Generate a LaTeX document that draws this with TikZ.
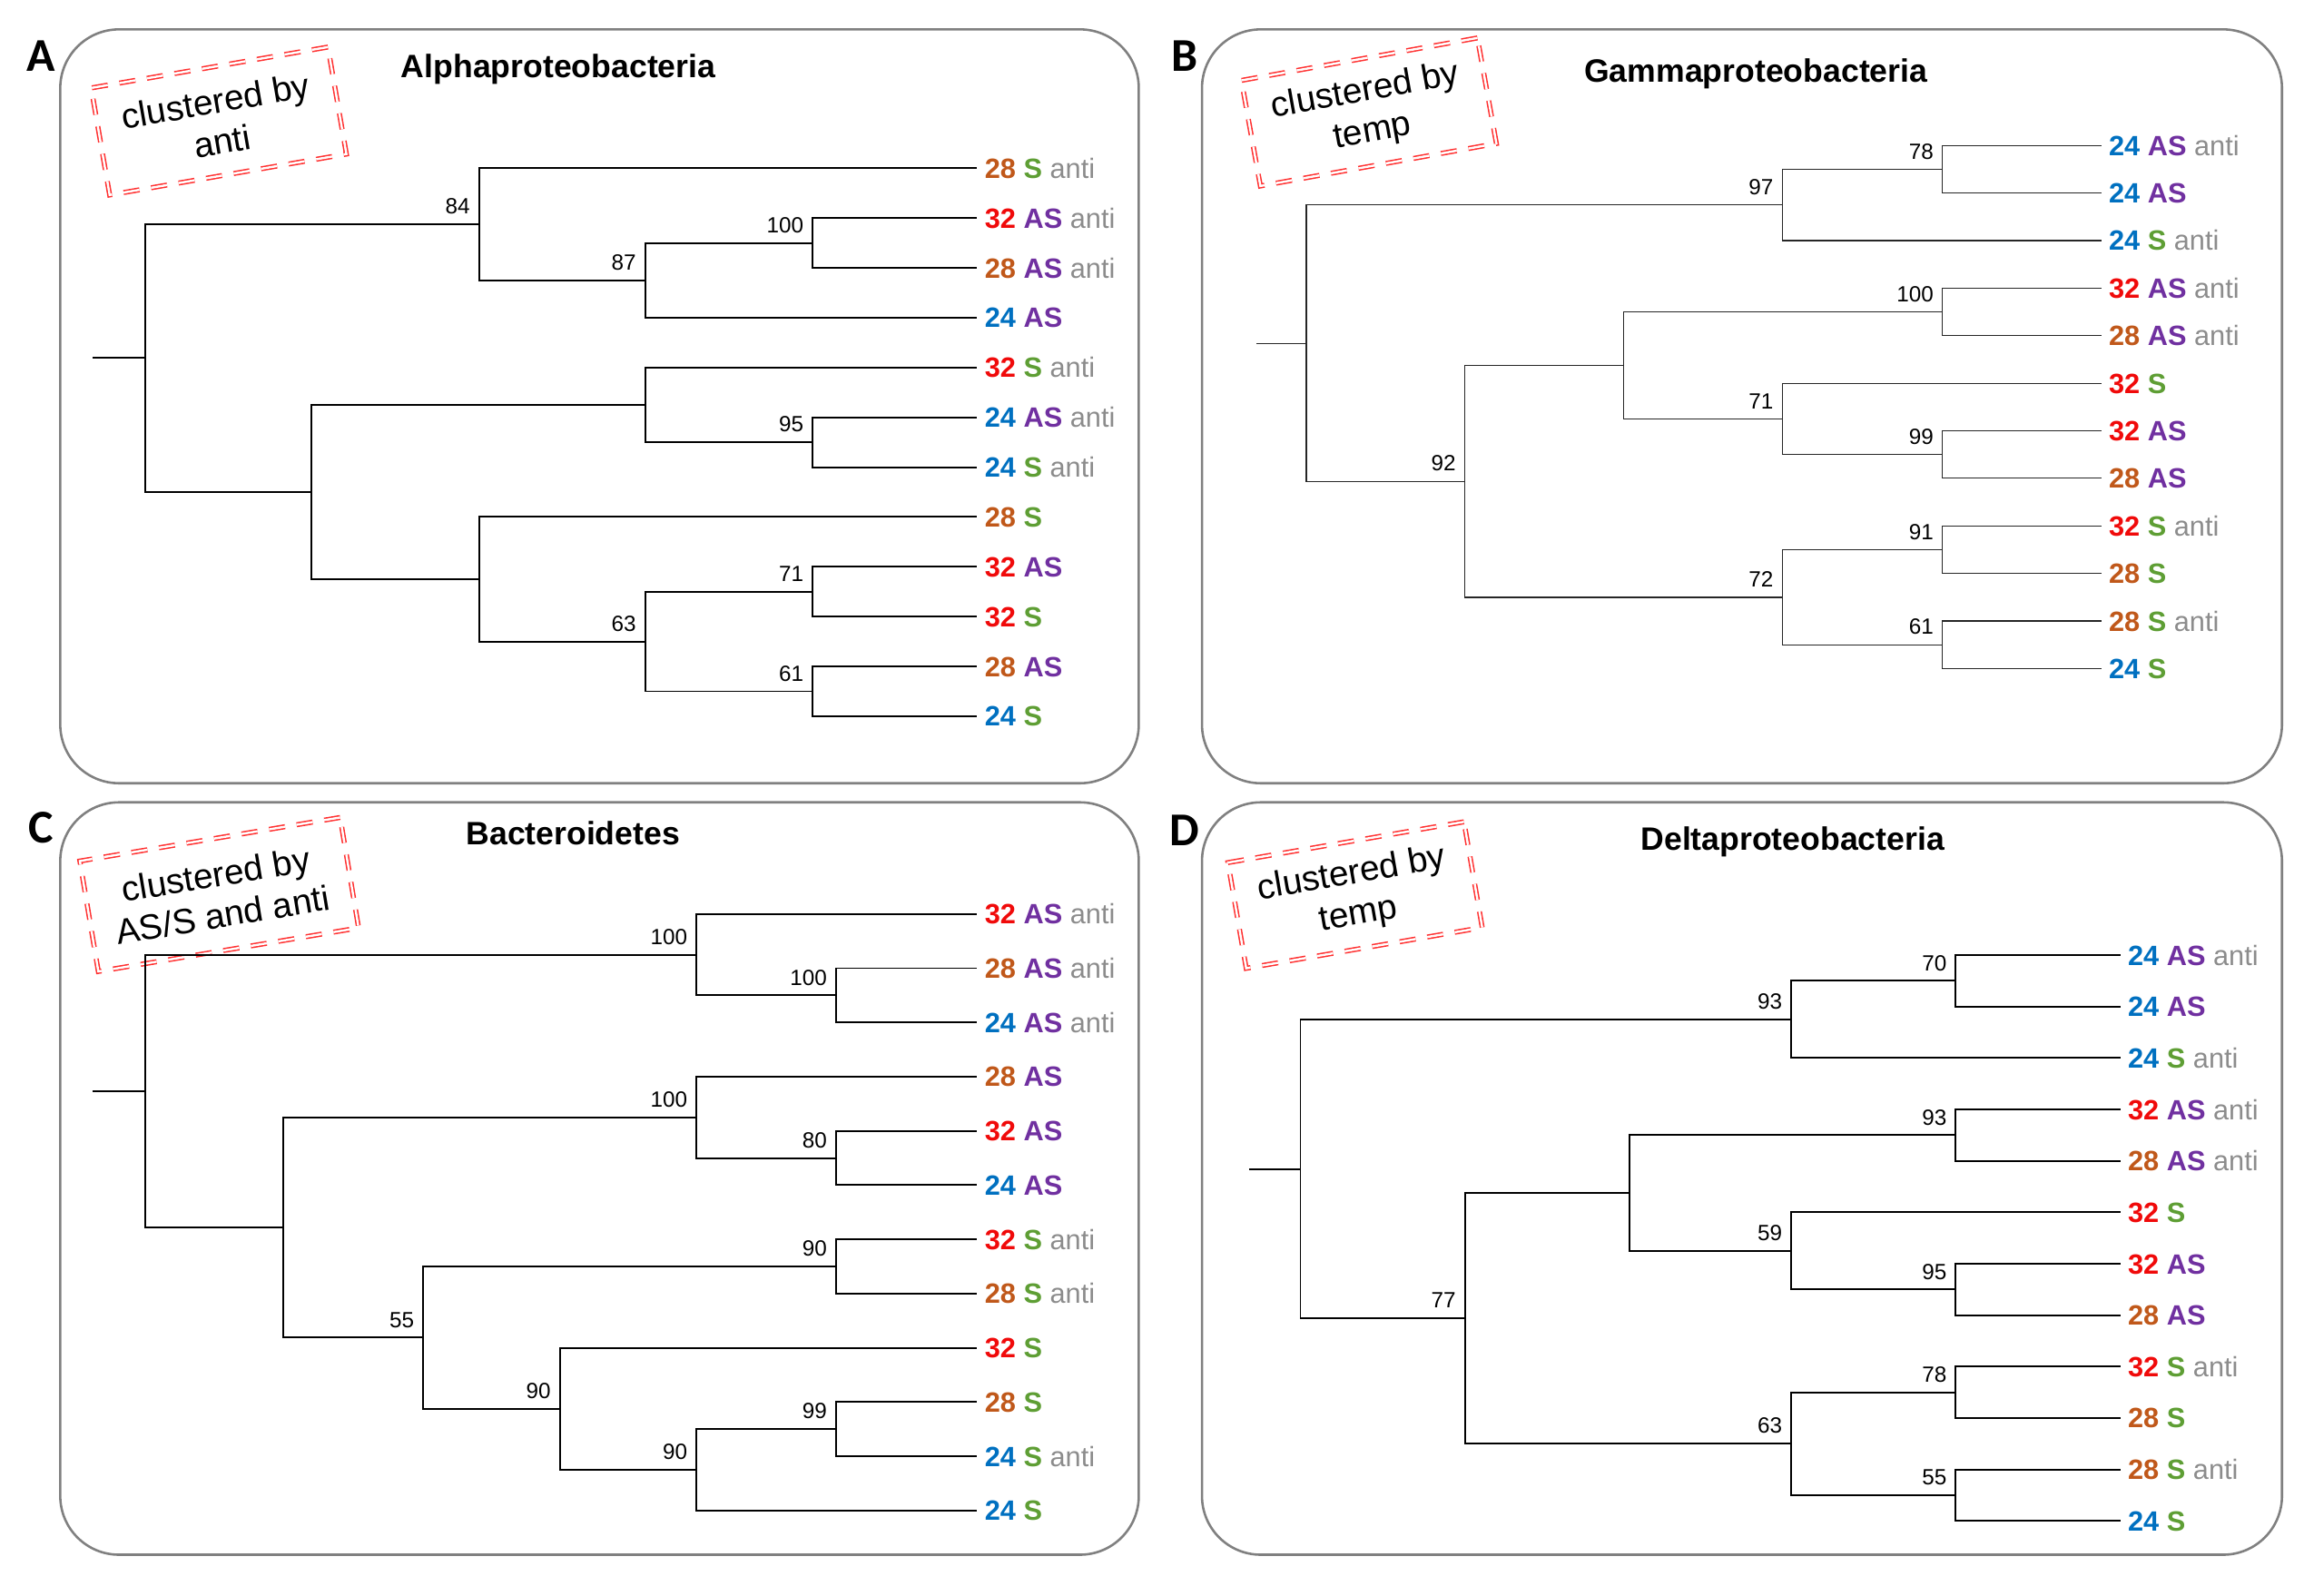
\documentclass[tikz,border=0pt]{standalone}
\usepackage{fontspec}
\setmainfont{Liberation Sans}
\newfontfamily\letterfont{Carlito}
\usetikzlibrary{calc}
\definecolor{c24}{HTML}{0070C0}
\definecolor{c28}{HTML}{C0581A}
\definecolor{c32}{HTML}{F00A0A}
\definecolor{cAS}{HTML}{7030A0}
\definecolor{cS}{HTML}{5E9E34}
\definecolor{canti}{HTML}{8C8C8C}
\definecolor{panelgray}{HTML}{808080}
\definecolor{dred}{HTML}{FF3030}
\newcommand{\tnum}[1]{\textcolor{c#1}{\textbf{#1}}}
\newcommand{\tAS}{\textcolor{cAS}{\textbf{AS}}}
\newcommand{\tS}{\textcolor{cS}{\textbf{S}}}
\newcommand{\tanti}{\textcolor{canti}{anti}}
\begin{document}
\begin{tikzpicture}[x=1pt,y=-1pt,
  panel/.style={draw=panelgray, line width=1.6pt, rounded corners=40pt},
  thick tree/.style={line width=1.2pt, black},
  thin tree/.style={line width=0.75pt, black!85},
  leaf/.style={anchor=west, inner xsep=5pt, inner ysep=0pt, font=\fontsize{19}{22}\selectfont, text height=13.6pt, text depth=0pt},
  boot/.style={anchor=base east, font=\fontsize{15}{18}\selectfont, inner sep=0pt},
  title/.style={font=\fontsize{22}{26}\selectfont\bfseries},
  plabel/.style={font=\letterfont\fontsize{32}{36}\selectfont\bfseries},
  dbox/.style={draw=dred, double=white, double distance=1.5pt, line width=0.95pt, dash pattern=on 11pt off 8pt, align=center, font=\fontsize{24}{28}\selectfont, inner sep=0pt}
]
\useasboundingbox (0,0) rectangle (1568,1085.5);

% ---------- panel frames ----------
\draw[panel] (41,20) rectangle (775,533);
\draw[panel] (818,20) rectangle (1553,533);
\draw[panel] (41,546) rectangle (775,1058);
\draw[panel] (818,546) rectangle (1553,1058);

\node[plabel] (LA) at (28,38) {A};
\node[plabel] (LB) at (806,38) {B};
\node[plabel] (LC) at (28,563) {C};
\node[plabel] (LD) at (806,565) {D};

\node[title] (TA) at (380,47) {Alphaproteobacteria};
\node[title] (TB) at (1195,50) {Gammaproteobacteria};
\node[title] (TC) at (390,567) {Bacteroidetes};
\node[title] (TD) at (1220,573) {Deltaproteobacteria};

% ---------- dashed notes ----------
\node[dbox, rotate=9.8, minimum width=163.5pt, minimum height=73.9pt] (bA) at (148.9,82.35) {clustered by\\anti};
\node[dbox, rotate=10.2, minimum width=163.2pt, minimum height=73pt] (bB) at (931.6,76.2) {clustered by\\temp};
\node[dbox, rotate=9.5, minimum width=179.6pt, minimum height=76.2pt] (bC) at (149.2,608.7) {clustered by\\AS/S and anti};
\node[dbox, rotate=9.8, minimum width=163pt, minimum height=73pt] (bD) at (922.2,609.1) {clustered by\\temp};

% ================= Panel A =================
\coordinate (A0) at (63,243.7);
\coordinate (nAr) at (99,243.7);
\coordinate (nA84) at (326,152.6);
\coordinate (nA87) at (439,190.8);
\coordinate (nA100) at (553,165.35);
\coordinate (nAx1) at (439,275.5);
\coordinate (nA95) at (553,300.95);
\coordinate (nAx3) at (212,334.85);
\coordinate (nAx2) at (326,394.2);
\coordinate (nA63) at (439,436.55);
\coordinate (nA71) at (553,402.65);
\coordinate (nA61) at (553,470.45);
\node[leaf] (A1) at (665,114.5) {\tnum{28} \tS{} \tanti};
\node[leaf] (A2) at (665,148.4) {\tnum{32} \tAS{} \tanti};
\node[leaf] (A3) at (665,182.3) {\tnum{28} \tAS{} \tanti};
\node[leaf] (A4) at (665,216.2) {\tnum{24} \tAS};
\node[leaf] (A5) at (665,250.1) {\tnum{32} \tS{} \tanti};
\node[leaf] (A6) at (665,284.0) {\tnum{24} \tAS{} \tanti};
\node[leaf] (A7) at (665,317.9) {\tnum{24} \tS{} \tanti};
\node[leaf] (A8) at (665,351.8) {\tnum{28} \tS};
\node[leaf] (A9) at (665,385.7) {\tnum{32} \tAS};
\node[leaf] (A10) at (665,419.6) {\tnum{32} \tS};
\node[leaf] (A11) at (665,453.5) {\tnum{28} \tAS};
\node[leaf] (A12) at (665,487.4) {\tnum{24} \tS};
\begin{scope}[thick tree]
\draw (A0) -- (nAr);
\draw (nAr) |- (nA84); \draw (nAr) |- (nAx3);
\draw (nA84) |- (A1.west); \draw (nA84) |- (nA87);
\draw (nA87) |- (nA100); \draw (nA87) |- (A4.west);
\draw (nA100) |- (A2.west); \draw (nA100) |- (A3.west);
\draw (nAx3) |- (nAx1); \draw (nAx3) |- (nAx2);
\draw (nAx1) |- (A5.west); \draw (nAx1) |- (nA95);
\draw (nA95) |- (A6.west); \draw (nA95) |- (A7.west);
\draw (nAx2) |- (A8.west); \draw (nAx2) |- (nA63);
\draw (nA63) |- (nA71); \draw (nA63) |- (nA61);
\draw (nA71) |- (A9.west); \draw (nA71) |- (A10.west);
\draw (nA61) |- (A11.west); \draw (nA61) |- (A12.west);
\end{scope}
\node[boot] (bsA84) at ([xshift=-6pt,yshift=7pt]nA84) {84};
\node[boot] (bsA87) at ([xshift=-6pt,yshift=7pt]nA87) {87};
\node[boot] (bsA100) at ([xshift=-6pt,yshift=7pt]nA100) {100};
\node[boot] (bsA95) at ([xshift=-6pt,yshift=7pt]nA95) {95};
\node[boot] (bsA63) at ([xshift=-6pt,yshift=7pt]nA63) {63};
\node[boot] (bsA71) at ([xshift=-6pt,yshift=7pt]nA71) {71};
\node[boot] (bsA61) at ([xshift=-6pt,yshift=7pt]nA61) {61};

% ================= Panel B =================
\coordinate (B0) at (855,233.6);
\coordinate (nBr) at (889,233.6);
\coordinate (nB97) at (1213,139.5);
\coordinate (nB78) at (1322,115.2);
\coordinate (nB92) at (997,327.6);
\coordinate (nBx) at (1105,248.7);
\coordinate (nB100) at (1322,212.3);
\coordinate (nB71) at (1213,285.1);
\coordinate (nB99) at (1322,309.4);
\coordinate (nB72) at (1213,406.5);
\coordinate (nB91) at (1322,374.1);
\coordinate (nB61) at (1322,438.8);
\node[leaf] (B1) at (1430,99.0) {\tnum{24} \tAS{} \tanti};
\node[leaf] (B2) at (1430,131.4) {\tnum{24} \tAS};
\node[leaf] (B3) at (1430,163.7) {\tnum{24} \tS{} \tanti};
\node[leaf] (B4) at (1430,196.1) {\tnum{32} \tAS{} \tanti};
\node[leaf] (B5) at (1430,228.4) {\tnum{28} \tAS{} \tanti};
\node[leaf] (B6) at (1430,260.8) {\tnum{32} \tS};
\node[leaf] (B7) at (1430,293.2) {\tnum{32} \tAS};
\node[leaf] (B8) at (1430,325.5) {\tnum{28} \tAS};
\node[leaf] (B9) at (1430,357.9) {\tnum{32} \tS{} \tanti};
\node[leaf] (B10) at (1430,390.2) {\tnum{28} \tS};
\node[leaf] (B11) at (1430,422.6) {\tnum{28} \tS{} \tanti};
\node[leaf] (B12) at (1430,455.0) {\tnum{24} \tS};
\begin{scope}[thin tree]
\draw (B0) -- (nBr);
\draw (nBr) |- (nB97); \draw (nBr) |- (nB92);
\draw (nB97) |- (nB78); \draw (nB97) |- (B3.west);
\draw (nB78) |- (B1.west); \draw (nB78) |- (B2.west);
\draw (nB92) |- (nBx); \draw (nB92) |- (nB72);
\draw (nBx) |- (nB100); \draw (nBx) |- (nB71);
\draw (nB100) |- (B4.west); \draw (nB100) |- (B5.west);
\draw (nB71) |- (B6.west); \draw (nB71) |- (nB99);
\draw (nB99) |- (B7.west); \draw (nB99) |- (B8.west);
\draw (nB72) |- (nB91); \draw (nB72) |- (nB61);
\draw (nB91) |- (B9.west); \draw (nB91) |- (B10.west);
\draw (nB61) |- (B11.west); \draw (nB61) |- (B12.west);
\end{scope}
\node[boot] (bsB97) at ([xshift=-6pt,yshift=7pt]nB97) {97};
\node[boot] (bsB78) at ([xshift=-6pt,yshift=7pt]nB78) {78};
\node[boot] (bsB92) at ([xshift=-6pt,yshift=7pt]nB92) {92};
\node[boot] (bsB100) at ([xshift=-6pt,yshift=7pt]nB100) {100};
\node[boot] (bsB71) at ([xshift=-6pt,yshift=7pt]nB71) {71};
\node[boot] (bsB99) at ([xshift=-6pt,yshift=7pt]nB99) {99};
\node[boot] (bsB72) at ([xshift=-6pt,yshift=7pt]nB72) {72};
\node[boot] (bsB91) at ([xshift=-6pt,yshift=7pt]nB91) {91};
\node[boot] (bsB61) at ([xshift=-6pt,yshift=7pt]nB61) {61};

% ================= Panel C =================
\coordinate (C0) at (63,742.5);
\coordinate (nCr) at (99,742.5);
\coordinate (nC100a) at (474,649.7);
\coordinate (nC100b) at (569,677.35);
\coordinate (nCy) at (193,835.35);
\coordinate (nC100c) at (474,760.4);
\coordinate (nC80) at (569,788.05);
\coordinate (nC55) at (288,910.3);
\coordinate (nC90a) at (569,861.85);
\coordinate (nC90b) at (381,958.7);
\coordinate (nC90c) at (474,1000.2);
\coordinate (nC99) at (569,972.55);
\node[leaf] (C1) at (665,622.0) {\tnum{32} \tAS{} \tanti};
\node[leaf] (C2) at (665,658.9) {\tnum{28} \tAS{} \tanti};
\node[leaf] (C3) at (665,695.8) {\tnum{24} \tAS{} \tanti};
\node[leaf] (C4) at (665,732.7) {\tnum{28} \tAS};
\node[leaf] (C5) at (665,769.6) {\tnum{32} \tAS};
\node[leaf] (C6) at (665,806.5) {\tnum{24} \tAS};
\node[leaf] (C7) at (665,843.4) {\tnum{32} \tS{} \tanti};
\node[leaf] (C8) at (665,880.3) {\tnum{28} \tS{} \tanti};
\node[leaf] (C9) at (665,917.2) {\tnum{32} \tS};
\node[leaf] (C10) at (665,954.1) {\tnum{28} \tS};
\node[leaf] (C11) at (665,991.0) {\tnum{24} \tS{} \tanti};
\node[leaf] (C12) at (665,1027.9) {\tnum{24} \tS};
\begin{scope}[thick tree]
\draw (C0) -- (nCr);
\draw (nCr) |- (nC100a); \draw (nCr) |- (nCy);
\draw (nC100a) |- (C1.west); \draw (nC100a) |- (nC100b);
\draw (nC100b) |- (C2.west); \draw (nC100b) |- (C3.west);
\draw (nCy) |- (nC100c); \draw (nCy) |- (nC55);
\draw (nC100c) |- (C4.west); \draw (nC100c) |- (nC80);
\draw (nC80) |- (C5.west); \draw (nC80) |- (C6.west);
\draw (nC55) |- (nC90a); \draw (nC55) |- (nC90b);
\draw (nC90a) |- (C7.west); \draw (nC90a) |- (C8.west);
\draw (nC90b) |- (C9.west); \draw (nC90b) |- (nC90c);
\draw (nC90c) |- (nC99); \draw (nC90c) |- (C12.west);
\draw (nC99) |- (C10.west); \draw (nC99) |- (C11.west);
\end{scope}
\node[boot] (bsC100a) at ([xshift=-6pt,yshift=7pt]nC100a) {100};
\node[boot] (bsC100b) at ([xshift=-6pt,yshift=7pt]nC100b) {100};
\node[boot] (bsC100c) at ([xshift=-6pt,yshift=7pt]nC100c) {100};
\node[boot] (bsC80) at ([xshift=-6pt,yshift=7pt]nC80) {80};
\node[boot] (bsC90a) at ([xshift=-6pt,yshift=7pt]nC90a) {90};
\node[boot] (bsC55) at ([xshift=-6pt,yshift=7pt]nC55) {55};
\node[boot] (bsC90b) at ([xshift=-6pt,yshift=7pt]nC90b) {90};
\node[boot] (bsC90c) at ([xshift=-6pt,yshift=7pt]nC90c) {90};
\node[boot] (bsC99) at ([xshift=-6pt,yshift=7pt]nC99) {99};

% ================= Panel D =================
\coordinate (D0) at (850,795.5);
\coordinate (nDr) at (885,795.5);
\coordinate (nD93a) at (1219,693.75);
\coordinate (nD70) at (1331,667.5);
\coordinate (nD77) at (997,897.2);
\coordinate (nDz) at (1109,811.9);
\coordinate (nD93b) at (1331,772.5);
\coordinate (nD59) at (1219,851.25);
\coordinate (nD95) at (1331,877.5);
\coordinate (nD63) at (1219,982.5);
\coordinate (nD78) at (1331,947.5);
\coordinate (nD55) at (1331,1017.5);
\node[leaf] (D1) at (1443,650) {\tnum{24} \tAS{} \tanti};
\node[leaf] (D2) at (1443,685) {\tnum{24} \tAS};
\node[leaf] (D3) at (1443,720) {\tnum{24} \tS{} \tanti};
\node[leaf] (D4) at (1443,755) {\tnum{32} \tAS{} \tanti};
\node[leaf] (D5) at (1443,790) {\tnum{28} \tAS{} \tanti};
\node[leaf] (D6) at (1443,825) {\tnum{32} \tS};
\node[leaf] (D7) at (1443,860) {\tnum{32} \tAS};
\node[leaf] (D8) at (1443,895) {\tnum{28} \tAS};
\node[leaf] (D9) at (1443,930) {\tnum{32} \tS{} \tanti};
\node[leaf] (D10) at (1443,965) {\tnum{28} \tS};
\node[leaf] (D11) at (1443,1000) {\tnum{28} \tS{} \tanti};
\node[leaf] (D12) at (1443,1035) {\tnum{24} \tS};
\begin{scope}[thick tree]
\draw (D0) -- (nDr);
\draw (nDr) |- (nD93a); \draw (nDr) |- (nD77);
\draw (nD93a) |- (nD70); \draw (nD93a) |- (D3.west);
\draw (nD70) |- (D1.west); \draw (nD70) |- (D2.west);
\draw (nD77) |- (nDz); \draw (nD77) |- (nD63);
\draw (nDz) |- (nD93b); \draw (nDz) |- (nD59);
\draw (nD93b) |- (D4.west); \draw (nD93b) |- (D5.west);
\draw (nD59) |- (D6.west); \draw (nD59) |- (nD95);
\draw (nD95) |- (D7.west); \draw (nD95) |- (D8.west);
\draw (nD63) |- (nD78); \draw (nD63) |- (nD55);
\draw (nD78) |- (D9.west); \draw (nD78) |- (D10.west);
\draw (nD55) |- (D11.west); \draw (nD55) |- (D12.west);
\end{scope}
\node[boot] (bsD93a) at ([xshift=-6pt,yshift=7pt]nD93a) {93};
\node[boot] (bsD70) at ([xshift=-6pt,yshift=7pt]nD70) {70};
\node[boot] (bsD77) at ([xshift=-6pt,yshift=7pt]nD77) {77};
\node[boot] (bsD93b) at ([xshift=-6pt,yshift=7pt]nD93b) {93};
\node[boot] (bsD59) at ([xshift=-6pt,yshift=7pt]nD59) {59};
\node[boot] (bsD95) at ([xshift=-6pt,yshift=7pt]nD95) {95};
\node[boot] (bsD63) at ([xshift=-6pt,yshift=7pt]nD63) {63};
\node[boot] (bsD78) at ([xshift=-6pt,yshift=7pt]nD78) {78};
\node[boot] (bsD55) at ([xshift=-6pt,yshift=7pt]nD55) {55};
\end{tikzpicture}
\end{document}
